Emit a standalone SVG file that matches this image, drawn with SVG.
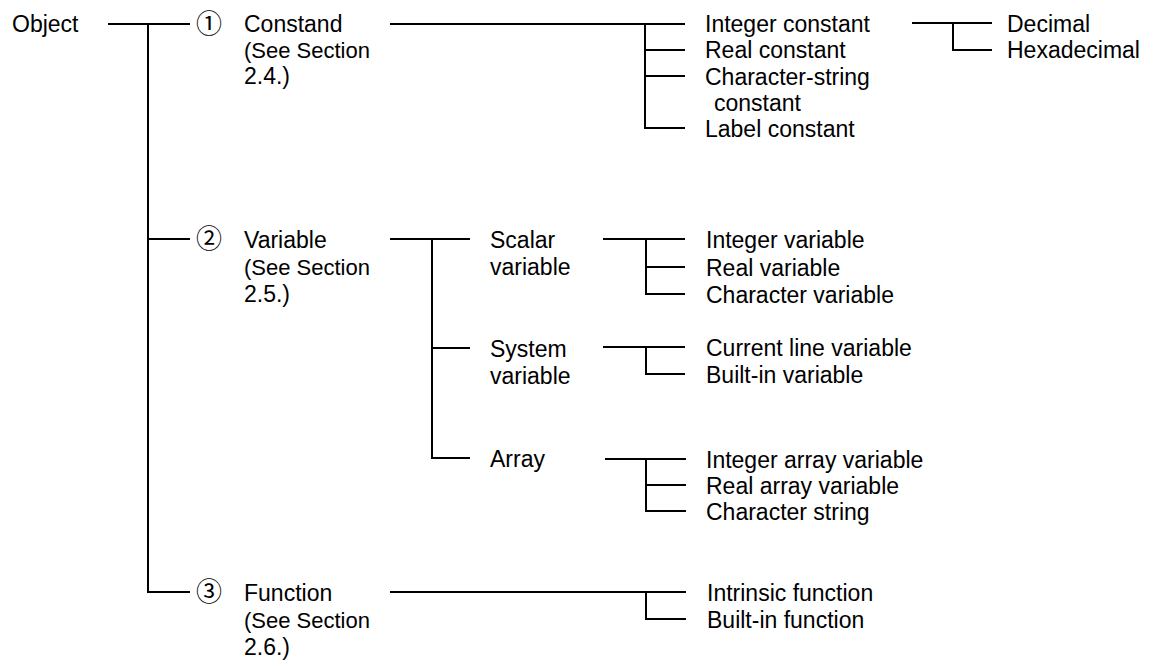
<svg xmlns="http://www.w3.org/2000/svg" width="1162" height="666" viewBox="0 0 1162 666">
<style>
text{font-family:"Liberation Sans",Arial,sans-serif;font-size:23px;fill:#000}
.s{font-size:22px}
.num{font-family:"Liberation Sans","Noto Sans CJK JP",sans-serif;font-size:26px;text-anchor:middle}
.c line,.c path{stroke:#000;stroke-width:2;fill:none}
</style>
<rect width="1162" height="666" fill="#fff"/>
<g class="c" id="connectors">
<line x1="108" y1="24" x2="190" y2="24"/>
<path d="M148 24V592H190"/>
<line x1="148" y1="239" x2="190" y2="239"/>
<line x1="390" y1="24" x2="685" y2="24"/>
<path d="M645 24V128H685"/>
<line x1="645" y1="50" x2="685" y2="50"/>
<line x1="645" y1="76" x2="685" y2="76"/>
<line x1="912" y1="23" x2="992" y2="23"/>
<path d="M953 23V50H992"/>
<line x1="390" y1="239" x2="470" y2="239"/>
<path d="M432 239V458H470"/>
<line x1="432" y1="348" x2="470" y2="348"/>
<line x1="603" y1="239" x2="685" y2="239"/>
<path d="M646 239V294H685"/>
<line x1="646" y1="267" x2="685" y2="267"/>
<line x1="603" y1="347" x2="685" y2="347"/>
<path d="M646 347V374H685"/>
<line x1="605" y1="459" x2="686" y2="459"/>
<path d="M646 459V511H686"/>
<line x1="646" y1="485" x2="686" y2="485"/>
<line x1="390" y1="592" x2="686" y2="592"/>
<path d="M646 592V619H686"/>
</g>
<g id="object"><text x="12" y="32">Object</text></g>
<g id="constand"><text class="num" x="209" y="33">①</text><text x="244" y="32">Constand</text><text class="s" x="244" y="58">(See Section</text><text x="244" y="84">2.4.)</text></g>
<g id="integer-constant"><text x="705" y="32">Integer constant</text></g>
<g id="real-constant"><text x="705" y="58">Real constant</text></g>
<g id="character-string-constant"><text x="705" y="85">Character-string</text><text x="714" y="111">constant</text></g>
<g id="label-constant"><text x="705" y="137">Label constant</text></g>
<g id="decimal"><text x="1007" y="32">Decimal</text></g>
<g id="hexadecimal"><text x="1007" y="58">Hexadecimal</text></g>
<g id="variable"><text class="num" x="209" y="248">②</text><text x="244" y="248">Variable</text><text class="s" x="244" y="275">(See Section</text><text x="244" y="302">2.5.)</text></g>
<g id="scalar-variable"><text x="490" y="248">Scalar</text><text x="490" y="275">variable</text></g>
<g id="system-variable"><text x="490" y="357">System</text><text x="490" y="384">variable</text></g>
<g id="array"><text x="490" y="467">Array</text></g>
<g id="integer-variable"><text x="706" y="248">Integer variable</text></g>
<g id="real-variable"><text x="706" y="276">Real variable</text></g>
<g id="character-variable"><text x="706" y="303">Character variable</text></g>
<g id="current-line-variable"><text x="706" y="356">Current line variable</text></g>
<g id="built-in-variable"><text x="706" y="383">Built-in variable</text></g>
<g id="integer-array-variable"><text x="706" y="468">Integer array variable</text></g>
<g id="real-array-variable"><text x="706" y="494">Real array variable</text></g>
<g id="character-string"><text x="706" y="520">Character string</text></g>
<g id="function"><text class="num" x="209" y="601">③</text><text x="244" y="601">Function</text><text class="s" x="244" y="628">(See Section</text><text x="244" y="655">2.6.)</text></g>
<g id="intrinsic-function"><text x="707" y="601">Intrinsic function</text></g>
<g id="built-in-function"><text x="707" y="628">Built-in function</text></g>
</svg>
